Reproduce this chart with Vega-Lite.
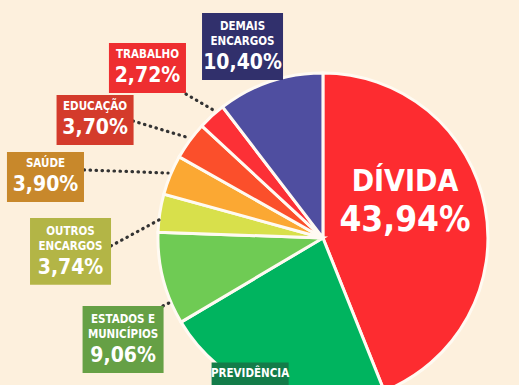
{
  "$schema": "https://vega.github.io/schema/vega-lite/v6.json",
  "width": 519,
  "height": 385,
  "autosize": "none",
  "padding": 0,
  "background": "#fdf0dd",
  "config": {"view": {"stroke": null}},
  "datasets": {
    "slices": [
      {"category": "Dívida", "value": 43.94},
      {"category": "Previdência", "value": 22.54},
      {"category": "Estados e Municípios", "value": 9.06},
      {"category": "Outros encargos", "value": 3.74},
      {"category": "Saúde", "value": 3.90},
      {"category": "Educação", "value": 3.70},
      {"category": "Trabalho", "value": 2.72},
      {"category": "Demais encargos", "value": 10.40}
    ],
    "labels": [
      {"category": "Demais encargos", "upper": "DEMAIS", "lower": "ENCARGOS", "pct": "10,40%", "ax": -48.8, "ay": 95.6},
      {"category": "Trabalho", "upper": "", "lower": "TRABALHO", "pct": "2,72%", "ax": -106.5, "ay": 87.7},
      {"category": "Educação", "upper": "", "lower": "EDUCAÇÃO", "pct": "3,70%", "ax": -138.3, "ay": 56.3},
      {"category": "Saúde", "upper": "", "lower": "SAÚDE", "pct": "3,90%", "ax": -168.4, "ay": 21.8},
      {"category": "Outros encargos", "upper": "OUTROS", "lower": "ENCARGOS", "pct": "3,74%", "ax": -153.2, "ay": -28.4},
      {"category": "Estados e Municípios", "upper": "ESTADOS E", "lower": "MUNICÍPIOS", "pct": "9,06%", "ax": -121.3, "ay": -81.7},
      {"category": "Previdência", "upper": "", "lower": "PREVIDÊNCIA", "pct": "22,54%", "ax": -44.2, "ay": -105.6}
    ],
    "leaders": [
      {"category": "Trabalho", "x1": -83.1, "y1": 87.1, "x2": -66.7, "y2": 77.5},
      {"category": "Educação", "x1": -115.3, "y1": 70.8, "x2": -83.1, "y2": 61.1},
      {"category": "Saúde", "x1": -145.0, "y1": 41.2, "x2": -94.0, "y2": 39.3},
      {"category": "Outros encargos", "x1": -128.6, "y1": -4.8, "x2": -99.5, "y2": 10.9},
      {"category": "Estados e Municípios", "x1": -97.1, "y1": -41.2, "x2": -92.2, "y2": -38.7}
    ],
    "inner": [
      {"category": "Dívida", "name": "DÍVIDA", "pct": "43,94%", "ax": 49.8, "ay": 10.9}
    ]
  },
  "layer": [
    {
      "data": {"name": "slices"},
      "transform": [{"window": [{"op": "row_number", "as": "i"}]}],
      "mark": {"type": "arc", "outerRadius": 165, "stroke": "#fffaf2", "strokeWidth": 3},
      "encoding": {
        "x": {"datum": 0, "type": "quantitative", "scale": {"domain": [-196, 119], "nice": false, "zero": false}, "axis": null},
        "y": {"datum": 0, "type": "quantitative", "scale": {"domain": [-89, 144], "nice": false, "zero": false}, "axis": null},
        "theta": {"field": "value", "type": "quantitative", "stack": true},
        "order": {"field": "i", "type": "quantitative"},
        "color": {
          "field": "category", "type": "nominal", "legend": null,
          "scale": {
            "domain": ["Dívida", "Previdência", "Estados e Municípios", "Outros encargos", "Saúde", "Educação", "Trabalho", "Demais encargos"],
            "range": ["#fd2c30", "#00b45f", "#6fcb54", "#d8e04b", "#fba833", "#fb4f2b", "#fc3036", "#4f4ea0"]
          }
        }
      }
    },
    {
      "data": {"name": "leaders"},
      "mark": {"type": "rule", "strokeDash": [0.5, 5.5], "strokeCap": "round", "strokeWidth": 3.2, "color": "#333333"},
      "encoding": {
        "x": {"field": "x1", "type": "quantitative", "scale": {"domain": [-196, 119], "nice": false, "zero": false}, "axis": null},
        "y": {"field": "y1", "type": "quantitative", "scale": {"domain": [-89, 144], "nice": false, "zero": false}, "axis": null},
        "x2": {"field": "x2"},
        "y2": {"field": "y2"}
      }
    },
    {
      "data": {"name": "labels"},
      "mark": {"type": "point", "filled": true, "size": 6561, "opacity": 1, "strokeWidth": 0},
      "encoding": {
        "x": {"field": "ax", "type": "quantitative", "scale": {"domain": [-196, 119], "nice": false, "zero": false}, "axis": null},
        "y": {"field": "ay", "type": "quantitative", "scale": {"domain": [-89, 144], "nice": false, "zero": false}, "axis": null},
        "shape": {"condition": {"test": "datum.upper === ''", "value": "M-0.951,-1.235H0.951V0H-0.951Z"}, "value": "M-1,-1.654H1V0H-1Z"},
        "color": {
          "field": "category", "type": "nominal", "legend": null,
          "scale": {
            "domain": ["Demais encargos", "Trabalho", "Educação", "Saúde", "Outros encargos", "Estados e Municípios", "Previdência"],
            "range": ["#31306c", "#ee2e30", "#d43b2b", "#c8882b", "#b3b546", "#66a045", "#137c49"]
          }
        }
      }
    },
    {
      "data": {"name": "labels"},
      "mark": {"type": "text", "dy": -53, "fontSize": 11.5, "fontWeight": "bold", "font": "DejaVu Sans Condensed, Liberation Sans Narrow, sans-serif", "color": "#ffffff", "baseline": "middle", "align": "center"},
      "encoding": {
        "x": {"field": "ax", "type": "quantitative", "scale": {"domain": [-196, 119], "nice": false, "zero": false}, "axis": null},
        "y": {"field": "ay", "type": "quantitative", "scale": {"domain": [-89, 144], "nice": false, "zero": false}, "axis": null},
        "text": {"field": "upper"}
      }
    },
    {
      "data": {"name": "labels"},
      "mark": {"type": "text", "dy": -38, "fontSize": 11.5, "fontWeight": "bold", "font": "DejaVu Sans Condensed, Liberation Sans Narrow, sans-serif", "color": "#ffffff", "baseline": "middle", "align": "center"},
      "encoding": {
        "x": {"field": "ax", "type": "quantitative", "scale": {"domain": [-196, 119], "nice": false, "zero": false}, "axis": null},
        "y": {"field": "ay", "type": "quantitative", "scale": {"domain": [-89, 144], "nice": false, "zero": false}, "axis": null},
        "text": {"field": "lower"}
      }
    },
    {
      "data": {"name": "labels"},
      "mark": {"type": "text", "dy": -17, "fontSize": 21, "fontWeight": "bold", "font": "DejaVu Sans Condensed, Liberation Sans Narrow, sans-serif", "color": "#ffffff", "baseline": "middle", "align": "center"},
      "encoding": {
        "x": {"field": "ax", "type": "quantitative", "scale": {"domain": [-196, 119], "nice": false, "zero": false}, "axis": null},
        "y": {"field": "ay", "type": "quantitative", "scale": {"domain": [-89, 144], "nice": false, "zero": false}, "axis": null},
        "text": {"field": "pct"}
      }
    },
    {
      "data": {"name": "inner"},
      "mark": {"type": "text", "dy": -38, "fontSize": 30, "fontWeight": "bold", "font": "DejaVu Sans Condensed, Liberation Sans Narrow, sans-serif", "color": "#ffffff", "baseline": "middle", "align": "center"},
      "encoding": {
        "x": {"field": "ax", "type": "quantitative", "scale": {"domain": [-196, 119], "nice": false, "zero": false}, "axis": null},
        "y": {"field": "ay", "type": "quantitative", "scale": {"domain": [-89, 144], "nice": false, "zero": false}, "axis": null},
        "text": {"field": "name"}
      }
    },
    {
      "data": {"name": "inner"},
      "mark": {"type": "text", "fontSize": 35, "fontWeight": "bold", "font": "DejaVu Sans Condensed, Liberation Sans Narrow, sans-serif", "color": "#ffffff", "baseline": "middle", "align": "center"},
      "encoding": {
        "x": {"field": "ax", "type": "quantitative", "scale": {"domain": [-196, 119], "nice": false, "zero": false}, "axis": null},
        "y": {"field": "ay", "type": "quantitative", "scale": {"domain": [-89, 144], "nice": false, "zero": false}, "axis": null},
        "text": {"field": "pct"}
      }
    }
  ],
  "resolve": {"scale": {"color": "independent"}}
}
